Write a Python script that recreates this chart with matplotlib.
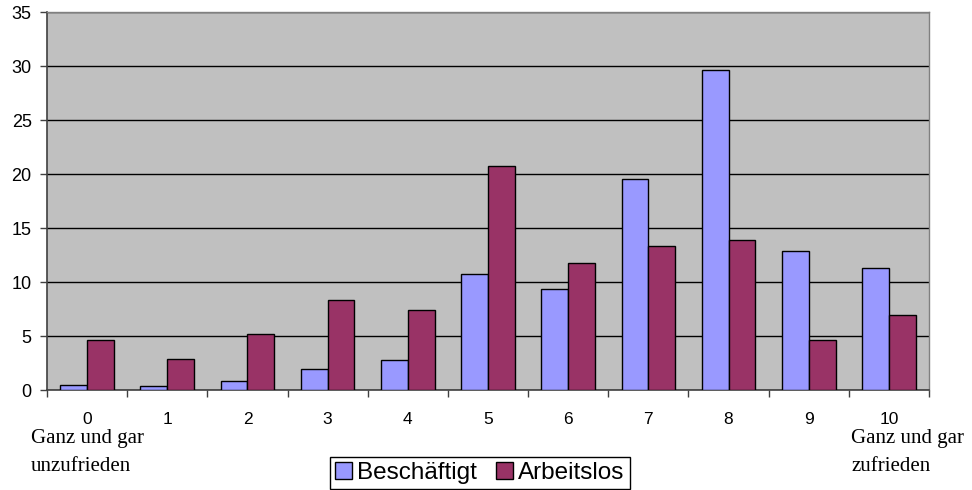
import numpy as np
import matplotlib
matplotlib.use('Agg')
import matplotlib.pyplot as plt

categories = ['0', '1', '2', '3', '4', '5', '6', '7', '8', '9', '10']
beschaeftigt = [0.5, 0.4, 0.85, 1.9, 2.75, 10.7, 9.35, 19.5, 29.6, 12.9, 11.3]
arbeitslos = [4.6, 2.9, 5.15, 8.3, 7.4, 20.7, 11.8, 13.3, 13.9, 4.6, 6.9]
yticks = [0, 5, 10, 15, 20, 25, 30, 35]

plt.rcParams['font.family'] = ['Liberation Sans', 'DejaVu Sans']

fig = plt.figure(figsize=(9.72, 4.9), dpi=100)
ax = fig.add_axes([47/972, 100/490, 882/972, 378/490])
ax.set_facecolor('#C0C0C0')

x = np.arange(len(categories))
w = 0.335
ax.bar(x - w/2, beschaeftigt, w, color='#9999FF', edgecolor='black', linewidth=1, label='Beschäftigt', zorder=3)
ax.bar(x + w/2, arbeitslos, w, color='#993366', edgecolor='black', linewidth=1, label='Arbeitslos', zorder=3)

ax.set_xlim(-0.5, len(categories) - 0.5)
ax.set_ylim(0, 35)
ax.set_yticks(yticks)
ax.set_yticklabels([str(v) for v in yticks], fontsize=13)
ax.grid(axis='y', color='black', linewidth=1, zorder=1)
ax.tick_params(axis='y', length=5, width=1, pad=6, color='#404040')

# ticks between categories, labels at the centres
ax.set_xticks(np.arange(-0.5, len(categories), 1.0))
ax.set_xticklabels([])
ax.set_xticks(x, minor=True)
ax.set_xticklabels(categories, minor=True, fontsize=12.5)
ax.tick_params(axis='x', which='major', length=5, width=1, color='#404040')
ax.tick_params(axis='x', which='minor', length=0, pad=16)

for s in ['left', 'bottom']:
    ax.spines[s].set_color('#404040')
    ax.spines[s].set_linewidth(1.2)
for s in ['top', 'right']:
    ax.spines[s].set_color('#808080')
    ax.spines[s].set_linewidth(1)

serif = ['Liberation Serif', 'DejaVu Serif']
fig.text(31/972, 1 - 443/490, 'Ganz und gar', fontsize=15, family=serif, va='baseline', ha='left')
fig.text(31/972, 1 - 471/490, 'unzufrieden', fontsize=15, family=serif, va='baseline', ha='left')
fig.text(851/972, 1 - 443/490, 'Ganz und gar', fontsize=15, family=serif, va='baseline', ha='left')
fig.text(851/972, 1 - 471/490, 'zufrieden', fontsize=15, family=serif, va='baseline', ha='left')

leg = fig.legend(loc='lower center', bbox_to_anchor=(480/972, 0.002), ncol=2, fontsize=17.5,
                 frameon=True, fancybox=False, edgecolor='black', framealpha=1,
                 handlelength=0.7, handleheight=0.7, handletextpad=0.2,
                 columnspacing=0.8, borderpad=0.2, borderaxespad=0)
leg.get_frame().set_linewidth(1)

fig.savefig('out.png', dpi=100)
